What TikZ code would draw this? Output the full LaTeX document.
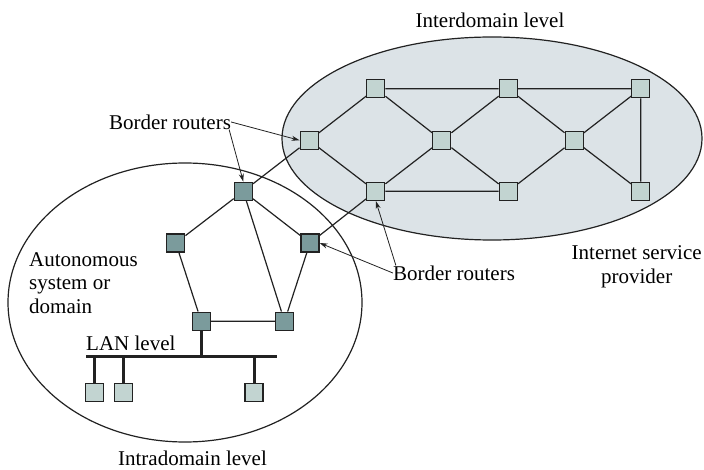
\documentclass[tikz,border=0pt]{standalone}
\usepackage{fontspec}
\setmainfont{Liberation Serif}
\newfontfamily\lblfont{Liberation Serif}
\usetikzlibrary{arrows.meta}
\definecolor{cloudfill}{HTML}{DCE3E7}
\definecolor{lightnode}{HTML}{C2D4D1}
\definecolor{darknode}{HTML}{7B9B9C}
\definecolor{edgecol}{HTML}{222222}
\begin{document}
\begin{tikzpicture}[x=1pt,y=-1pt,
  router/.style={draw=edgecol, line width=1.3pt, minimum size=18pt, inner sep=0pt},
  light/.style={router, fill=lightnode},
  dark/.style={router, fill=darknode},
  link/.style={draw=edgecol, line width=1.2pt},
  lan/.style={draw=edgecol, line width=3pt},
  pointer/.style={draw=edgecol, line width=0.8pt, -{Stealth[length=8pt,width=5pt]}},
  lbl/.style={font=\lblfont\fontsize{21}{23.5}\selectfont, inner sep=0pt, text=black}]
\useasboundingbox (0,0) rectangle (704,470);
\fill[white] (0,0) rectangle (704,470);
% domains
\draw[fill=cloudfill, line width=1.2pt, draw=edgecol] (492,138.5) ellipse [x radius=210, y radius=101.5];
\draw[line width=1.2pt, draw=edgecol] (185,302.5) ellipse [x radius=177, y radius=139.5];
% interdomain routers
\node[light] (a1) at (375.8,88.7) {};
\node[light] (a2) at (508.3,88.7) {};
\node[light] (a3) at (640.8,88.7) {};
\node[light] (b1) at (309.2,140.3) {};
\node[light] (b2) at (441.8,140.3) {};
\node[light] (b3) at (574.2,140.3) {};
\node[light] (c1) at (375.8,191.3) {};
\node[light] (c2) at (508.3,191.3) {};
\node[light] (c3) at (640.8,191.3) {};
% intradomain routers
\node[dark] (t) at (243.3,191.3) {};
\node[dark] (l) at (175.8,243) {};
\node[dark] (r) at (310,243) {};
\node[dark] (bl) at (201.2,321.2) {};
\node[dark] (br) at (284.5,321.2) {};
% LAN hosts
\node[light] (h1) at (94.5,392.8) {};
\node[light] (h2) at (123.3,392.8) {};
\node[light] (h3) at (254,392.8) {};
\coordinate (busL) at (86,356.7);
\coordinate (busR) at (277,356.7);
% interdomain links
\path[link] (a1) -- (a2) (a2) -- (a3)
  (b1) -- (a1) (b1) -- (c1)
  (a1) -- (b2) (b2) -- (a2) (b2) -- (c1) (b2) -- (c2)
  (a2) -- (b3) (b3) -- (a3) (b3) -- (c3) (b3) -- (c2)
  (a3) -- (c3) (c1) -- (c2);
% intradomain links
\path[link] (t) -- (l) (t) -- (r) (t) -- (br)
  (l) -- (bl) (r) -- (br) (bl) -- (br)
  (t) -- (b1) (r) -- (c1);
% LAN
\path[lan] (busL) -- (busR);
\path[lan] (bl.south) -- (bl.south |- busL);
\path[lan] (h1.north) -- (h1.north |- busL);
\path[lan] (h2.north) -- (h2.north |- busL);
\path[lan] (h3.north) -- (h3.north |- busL);
% labels
\node[lbl] (inter) at (490,20) {Interdomain level};
\node[lbl] (brA) at (170,122) {Border routers};
\node[lbl] (brB) at (454,273) {Border routers};
\node[lbl, anchor=north, align=center] (isp) at (636.7,245.5) {Internet service\\provider};
\node[lbl, anchor=north west, align=left] (as) at (29,252) {Autonomous\\system or\\domain};
\node[lbl, anchor=base west] (lanl) at (86,350.7) {LAN level};
\node[lbl, anchor=base] (intra) at (192.5,465.5) {Intradomain level};
% pointers
\draw[pointer] (brA.east) -- (b1.west);
\draw[pointer] ([xshift=-2pt]brA.south east) -- (t.north);
\draw[pointer] (brB.west) -- (r.east);
\draw[pointer] ([xshift=3pt]brB.north west) -- (c1.south);
\end{tikzpicture}
\end{document}
